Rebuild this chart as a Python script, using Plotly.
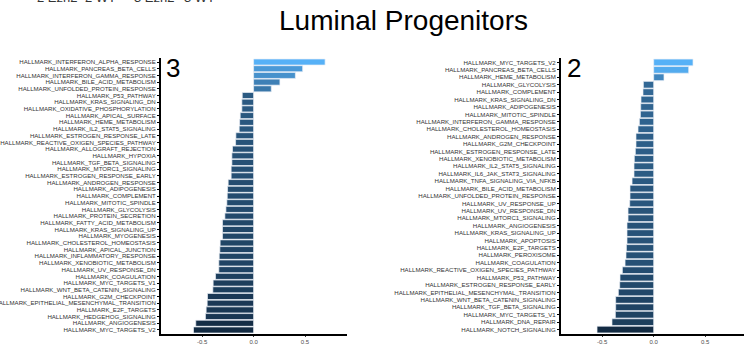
import plotly.graph_objects as go

# Hallmark gene sets and normalized enrichment scores, cluster 3 (left panel)
terms_c3 = [
    "HALLMARK_INTERFERON_ALPHA_RESPONSE", "HALLMARK_PANCREAS_BETA_CELLS",
    "HALLMARK_INTERFERON_GAMMA_RESPONSE", "HALLMARK_BILE_ACID_METABOLISM",
    "HALLMARK_UNFOLDED_PROTEIN_RESPONSE", "HALLMARK_P53_PATHWAY",
    "HALLMARK_KRAS_SIGNALING_DN", "HALLMARK_OXIDATIVE_PHOSPHORYLATION",
    "HALLMARK_APICAL_SURFACE", "HALLMARK_HEME_METABOLISM",
    "HALLMARK_IL2_STAT5_SIGNALING", "HALLMARK_ESTROGEN_RESPONSE_LATE",
    "HALLMARK_REACTIVE_OXIGEN_SPECIES_PATHWAY", "HALLMARK_ALLOGRAFT_REJECTION",
    "HALLMARK_HYPOXIA", "HALLMARK_TGF_BETA_SIGNALING",
    "HALLMARK_MTORC1_SIGNALING", "HALLMARK_ESTROGEN_RESPONSE_EARLY",
    "HALLMARK_ANDROGEN_RESPONSE", "HALLMARK_ADIPOGENESIS",
    "HALLMARK_COMPLEMENT", "HALLMARK_MITOTIC_SPINDLE",
    "HALLMARK_GLYCOLYSIS", "HALLMARK_PROTEIN_SECRETION",
    "HALLMARK_FATTY_ACID_METABOLISM", "HALLMARK_KRAS_SIGNALING_UP",
    "HALLMARK_MYOGENESIS", "HALLMARK_CHOLESTEROL_HOMEOSTASIS",
    "HALLMARK_APICAL_JUNCTION", "HALLMARK_INFLAMMATORY_RESPONSE",
    "HALLMARK_XENOBIOTIC_METABOLISM", "HALLMARK_UV_RESPONSE_DN",
    "HALLMARK_COAGULATION", "HALLMARK_MYC_TARGETS_V1",
    "HALLMARK_WNT_BETA_CATENIN_SIGNALING", "HALLMARK_G2M_CHECKPOINT",
    "HALLMARK_EPITHELIAL_MESENCHYMAL_TRANSITION", "HALLMARK_E2F_TARGETS",
    "HALLMARK_HEDGEHOG_SIGNALING", "HALLMARK_ANGIOGENESIS",
    "HALLMARK_MYC_TARGETS_V2",
]
nes_c3 = [
    0.695, 0.477, 0.406, 0.256, 0.172, -0.110, -0.114, -0.114, -0.130, -0.136,
    -0.140, -0.172, -0.175, -0.205, -0.211, -0.211, -0.218, -0.218, -0.247,
    -0.253, -0.256, -0.260, -0.269, -0.279, -0.302, -0.302, -0.302, -0.325,
    -0.328, -0.334, -0.338, -0.338, -0.370, -0.393, -0.396, -0.448, -0.451,
    -0.461, -0.468, -0.562, -0.584,
]

# Cluster 2 (right panel)
terms_c2 = [
    "HALLMARK_MYC_TARGETS_V2", "HALLMARK_PANCREAS_BETA_CELLS",
    "HALLMARK_HEME_METABOLISM", "HALLMARK_GLYCOLYSIS",
    "HALLMARK_COMPLEMENT", "HALLMARK_KRAS_SIGNALING_DN",
    "HALLMARK_ADIPOGENESIS", "HALLMARK_MITOTIC_SPINDLE",
    "HALLMARK_INTERFERON_GAMMA_RESPONSE", "HALLMARK_CHOLESTEROL_HOMEOSTASIS",
    "HALLMARK_ANDROGEN_RESPONSE", "HALLMARK_G2M_CHECKPOINT",
    "HALLMARK_ESTROGEN_RESPONSE_LATE", "HALLMARK_XENOBIOTIC_METABOLISM",
    "HALLMARK_IL2_STAT5_SIGNALING", "HALLMARK_IL6_JAK_STAT3_SIGNALING",
    "HALLMARK_TNFA_SIGNALING_VIA_NFKB", "HALLMARK_BILE_ACID_METABOLISM",
    "HALLMARK_UNFOLDED_PROTEIN_RESPONSE", "HALLMARK_UV_RESPONSE_UP",
    "HALLMARK_UV_RESPONSE_DN", "HALLMARK_MTORC1_SIGNALING",
    "HALLMARK_ANGIOGENESIS", "HALLMARK_KRAS_SIGNALING_UP",
    "HALLMARK_APOPTOSIS", "HALLMARK_E2F_TARGETS",
    "HALLMARK_PEROXISOME", "HALLMARK_COAGULATION",
    "HALLMARK_REACTIVE_OXIGEN_SPECIES_PATHWAY", "HALLMARK_P53_PATHWAY",
    "HALLMARK_ESTROGEN_RESPONSE_EARLY", "HALLMARK_EPITHELIAL_MESENCHYMAL_TRANSITION",
    "HALLMARK_WNT_BETA_CATENIN_SIGNALING", "HALLMARK_TGF_BETA_SIGNALING",
    "HALLMARK_MYC_TARGETS_V1", "HALLMARK_DNA_REPAIR",
    "HALLMARK_NOTCH_SIGNALING",
]
nes_c2 = [
    0.382, 0.340, 0.100, -0.100, -0.104, -0.123, -0.126, -0.129, -0.139,
    -0.152, -0.172, -0.172, -0.178, -0.188, -0.191, -0.191, -0.210, -0.230,
    -0.230, -0.233, -0.249, -0.249, -0.259, -0.259, -0.259, -0.265, -0.269,
    -0.278, -0.304, -0.327, -0.330, -0.343, -0.369, -0.369, -0.372, -0.405,
    -0.550,
]

x_ticks = [-0.5, 0.0, 0.5]
x_ticktext = ["-0.5", "0.0", "0.5"]
top_labels = ["2 Ezh2", "2 WT", "3 Ezh2", "3 WT"]

W, H = 744, 345
FONT = "Liberation Sans, Arial, sans-serif"
GRAD = [[0.0, "#132B43"], [0.5, "#336A98"], [1.0, "#56B1F7"]]


def px_x(p):
    return p / W


def px_y(p):
    return 1 - p / H


fig = go.Figure()


def add_panel(terms, vals, xa, ya):
    fig.add_trace(go.Bar(
        x=vals, y=terms, orientation="h", width=0.9,
        marker=dict(color=vals, colorscale=GRAD, cmin=min(vals), cmax=max(vals),
                    line=dict(color="rgba(235,240,248,0.85)", width=0.8)),
        xaxis=xa, yaxis=ya, showlegend=False, hoverinfo="x+y",
    ))


add_panel(terms_c3, nes_c3, "x", "y")
add_panel(terms_c2, nes_c2, "x2", "y2")

ydom = [px_y(334), px_y(58)]
xcommon = dict(
    tickmode="array", tickvals=x_ticks, ticktext=x_ticktext,
    showgrid=False, zeroline=False, automargin=False,
    showline=True, linecolor="black", linewidth=2, ticks="outside",
    ticklen=1, tickwidth=1, tickcolor="#333",
    tickfont=dict(family=FONT, size=6, color="#4d4d4d"),
)
ycommon = dict(
    type="category", tickmode="array", showgrid=False, zeroline=False,
    automargin=False, showline=True,
    linecolor="black", linewidth=2, ticks="outside", ticklen=2,
    tickwidth=1, tickcolor="black",
    tickfont=dict(family=FONT, size=6.1, color="#333333"),
    domain=ydom,
)

fig.update_layout(
    width=W, height=H, margin=dict(l=0, r=0, t=0, b=0),
    paper_bgcolor="white", plot_bgcolor="white",
    xaxis=dict(domain=[px_x(161), px_x(347)], range=[-0.9, 0.908], anchor="y", **xcommon),
    yaxis=dict(anchor="x", range=[len(terms_c3) - 0.4, -0.6],
               tickvals=terms_c3, ticktext=terms_c3,
               categoryarray=terms_c3, categoryorder="array", **ycommon),
    xaxis2=dict(domain=[px_x(561), 1.0], range=[-0.9, 0.877], anchor="y2", **xcommon),
    yaxis2=dict(anchor="x2", range=[len(terms_c2) - 0.4, -0.6],
                tickvals=terms_c2, ticktext=terms_c2,
                categoryarray=terms_c2, categoryorder="array", **ycommon),
)

annotations = [
    dict(text="Luminal Progenitors", x=px_x(403), y=px_y(21), xref="paper", yref="paper",
         xanchor="center", yanchor="middle", showarrow=False,
         font=dict(family=FONT, size=28, color="black")),
    dict(text="3", x=px_x(164), y=px_y(51), xref="paper", yref="paper",
         xanchor="left", yanchor="top", showarrow=False,
         font=dict(family=FONT, size=26, color="black")),
    dict(text="2", x=px_x(565), y=px_y(51), xref="paper", yref="paper",
         xanchor="left", yanchor="top", showarrow=False,
         font=dict(family=FONT, size=26, color="black")),
]
# group labels running along the top edge
label_x = [35, 83, 132, 182]
for lx, t in zip(label_x, top_labels):
    annotations.append(dict(text=t, x=px_x(lx), y=px_y(-3), xref="paper", yref="paper",
                            xanchor="left", yanchor="middle", showarrow=False,
                            font=dict(family=FONT, size=13, color="#333")))
fig.update_layout(annotations=annotations)

fig.write_html("out.html")
